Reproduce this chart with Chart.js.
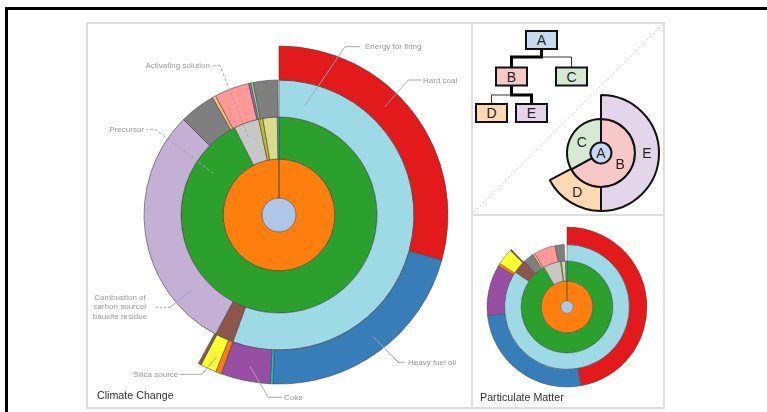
<!DOCTYPE html>
<html>
<head>
<meta charset="utf-8">
<script src="https://cdn.jsdelivr.net/npm/chart.js@4.4.0/dist/chart.umd.min.js"></script>
<style>
  body { margin: 0; width: 767px; height: 412px; overflow: hidden; position: relative; background: #fff; font-family: Arial, "Liberation Sans", sans-serif; }
  .frame { position: absolute; left: 5px; top: 7px; width: 800px; height: 500px; border-top: 3px solid #000; border-left: 3px solid #000; }
  .panel { position: absolute; border: 2px solid #dedede; box-sizing: border-box; }
  .title { position: absolute; font-size: 10.7px; color: #333; white-space: nowrap; }
  canvas, svg { position: absolute; }
</style>
</head>
<body>
<div class="frame"></div>
<div class="panel" style="left:86px;top:22px;width:387px;height:387px"></div>
<div class="panel" style="left:471px;top:22px;width:194px;height:194px"></div>
<div class="panel" style="left:471px;top:214px;width:194px;height:195px"></div>

<svg id="tree" style="left:472px;top:22px" width="192" height="193">
  <line x1="2" y1="190" x2="191" y2="2" stroke="#cccccc" stroke-width="1" stroke-dasharray="2,2"/>
  <!-- connectors -->
  <polyline points="69.5,27 69.5,35 39.5,35 39.5,45" fill="none" stroke="#000" stroke-width="3"/>
  <polyline points="69.5,35 99.5,35 99.5,45" fill="none" stroke="#333" stroke-width="1"/>
  <polyline points="39.5,63 39.5,73 59.5,73 59.5,82" fill="none" stroke="#000" stroke-width="3"/>
  <polyline points="39.5,73 19.5,73 19.5,82" fill="none" stroke="#333" stroke-width="1"/>
  <g stroke="#111" stroke-width="2">
    <rect x="54" y="9" width="31" height="18" fill="#c6dbef"/>
    <rect x="24" y="45.5" width="31" height="18" fill="#f6c9c8"/>
    <rect x="84" y="45.5" width="31" height="18" fill="#d6ead3"/>
    <rect x="4" y="82" width="31" height="18" fill="#fcd9b3"/>
    <rect x="44" y="82" width="31" height="18" fill="#e4d6ea"/>
  </g>
  <g fill="#222" font-size="14" font-family="Arial" text-anchor="middle">
    <text x="69.5" y="23">A</text>
    <text x="39.5" y="59.5">B</text>
    <text x="99.5" y="59.5">C</text>
    <text x="19.5" y="96">D</text>
    <text x="59.5" y="96">E</text>
  </g>
</svg>

<canvas id="cc" width="386" height="386" style="left:86px;top:22px"></canvas>
<canvas id="mini" width="124" height="124" style="left:539px;top:91px"></canvas>
<canvas id="pm" width="170" height="170" style="left:482px;top:222px"></canvas>

<div class="title" style="left:97px;top:389px">Climate Change</div>
<div class="title" style="left:480px;top:391px">Particulate Matter</div>

<script>
const GAP = "rgba(0,0,0,0)";

// Climate Change: segment shares in degrees, clockwise from 12 o'clock
// ring 4 (outermost)
const ccRing4Names = ["Hard coal", "Heavy fuel oil", "Other fuel", "Coke", "Other", "Silica source", "Other", ""];
const ccRing4 = [105.5, 76.5, 1, 17, 2, 5.5, 1, 151.5];
const ccRing4Colors = ["#e31a1c", "#377eb8", "#17becf", "#984ea3", "#ff7f0e", "#ffff33", "#8c564b", GAP];
// ring 3
const ccRing3Names = ["Energy for firing", "Other", "Combustion of carbon source/bauxite residue", "Other", "Other", "Activating solution", "Other", "Other", "Other", ""];
const ccRing3 = [200, 8, 107, 15.5, 1.5, 15, 1, 1, 10.5, 0.5];
const ccRing3Colors = ["#9edae5", "#8c564b", "#c5b0d5", "#7f7f7f", "#ffbb78", "#ff9896", "#9467bd", "#98df8a", "#7f7f7f", GAP];
// ring 2
const ccRing2Names = ["Precursor", "Activating solution", "Other", "Other", "Other"];
const ccRing2 = [333, 15, 2.5, 8.5, 1];
const ccRing2Colors = ["#2ca02c", "#c7c7c7", "#bcbd22", "#dbdb8d", "#17becf"];
// ring 1 and centre
const ccRing1 = [360];
const ccCore = [360];

// Particulate Matter
const pmRing4 = [170, 94, 37, 2, 12, 1, 44];
const pmRing4Colors = ["#e31a1c", "#377eb8", "#984ea3", "#ff7f0e", "#ffff33", "#8c564b", GAP];
const pmRing3 = [304, 13, 10, 2, 20, 8.5, 2.5];
const pmRing3Colors = ["#9edae5", "#8c564b", "#7f7f7f", "#ffbb78", "#ff9896", "#7f7f7f", GAP];
const pmRing2 = [330, 22, 1, 5, 2];
const pmRing2Colors = ["#2ca02c", "#c7c7c7", "#bcbd22", "#dbdb8d", "#17becf"];
const pmRing1 = [360];
const pmCore = [360];

// explanation sunburst (A..E)
const exRing3Names = ["E", "D", ""];
const exRing3 = [180, 62, 118];
const exRing2Names = ["B", "C"];
const exRing2 = [241, 119];
const exCoreNames = ["A"];
const exCore = [360];

function ring(values, colors, weight, line, bw) {
  return {
    data: values,
    backgroundColor: colors,
    borderColor: colors.map(c => c === GAP ? GAP : line),
    borderWidth: colors.map(c => c === GAP ? 0 : bw),
    weight: weight
  };
}

const LINE = "rgba(70,70,70,0.75)";

// leader lines for the climate change chart; offsets are from the chart centre
const ccLeaders = [
  { ds: 1, i: 0, t: 0.067, r: 0.4, elbow: [66, -168.3], end: [81, -168.3], text: ["Energy for firing"], tx: 86, ty: -168, align: "left" },
  { ds: 0, i: 0, t: 0.42, r: 0.49, elbow: [129.3, -135], end: [142.7, -135], text: ["Hard coal"], tx: 144, ty: -134, align: "left" },
  { ds: 2, i: 1, t: 0.37, r: 0.67, elbow: [-59, -149.3], end: [-67.3, -149.3], text: ["Activating solution"], tx: -69, ty: -149, align: "right", dash: true },
  { ds: 2, i: 0, t: 0.908, r: 0.52, elbow: [-124, -85.7], end: [-132.3, -85.7], text: ["Precursor"], tx: -135, ty: -85.7, align: "right", dash: true },
  { ds: 1, i: 2, t: 0.2, r: 0.45, elbow: [-109, 92.3], end: [-124, 92.3], text: ["Combustion of", "carbon source/", "bauxite residue"], tx: -159, ty: 82.3, align: "center", dashEnd: true },
  { ds: 0, i: 5, t: 0.3, r: 0.58, elbow: [-77.3, 159.3], end: [-99, 159.3], text: ["Silica source"], tx: -100.7, ty: 159.3, align: "right" },
  { ds: 0, i: 3, t: 0.46, r: 0.57, elbow: [-10.7, 182.3], end: [2.7, 182.3], text: ["Coke"], tx: 5, ty: 182.3, align: "left" },
  { ds: 0, i: 1, t: 0.48, r: 0.56, elbow: [119.3, 147.3], end: [126, 147.3], text: ["Heavy fuel oil"], tx: 129, ty: 147.3, align: "left" }
];

const leaderPlugin = {
  id: "leaders",
  afterDatasetsDraw(chart) {
    const ctx = chart.ctx;
    ctx.save();
    ccLeaders.forEach(l => {
      const arc = chart.getDatasetMeta(l.ds).data[l.i];
      const p = arc.getProps(["x", "y", "startAngle", "endAngle", "innerRadius", "outerRadius"], true);
      const a = p.startAngle + l.t * (p.endAngle - p.startAngle);
      const rr = p.innerRadius + l.r * (p.outerRadius - p.innerRadius);
      const ax = p.x + Math.cos(a) * rr, ay = p.y + Math.sin(a) * rr;
      ctx.strokeStyle = "#a8a8a8";
      ctx.lineWidth = 1;
      ctx.setLineDash(l.dash ? [3, 2] : []);
      ctx.beginPath();
      ctx.moveTo(ax, ay);
      ctx.lineTo(p.x + l.elbow[0], p.y + l.elbow[1]);
      if (!l.dashEnd) ctx.lineTo(p.x + l.end[0], p.y + l.end[1]);
      ctx.stroke();
      if (l.dashEnd) {
        ctx.setLineDash([2, 2]);
        ctx.beginPath();
        ctx.moveTo(p.x + l.elbow[0], p.y + l.elbow[1]);
        ctx.lineTo(p.x + l.end[0], p.y + l.end[1]);
        ctx.stroke();
      }
      ctx.setLineDash([]);
      ctx.fillStyle = "#9a9a9a";
      ctx.font = "8px Arial";
      ctx.textAlign = l.align;
      ctx.textBaseline = "middle";
      l.text.forEach((s, k) => ctx.fillText(s, p.x + l.tx, p.y + l.ty + k * 9.7));
    });
    ctx.restore();
  }
};

const letterPlugin = {
  id: "letters",
  afterDatasetsDraw(chart) {
    const ctx = chart.ctx;
    const names = [exRing3Names, exRing2Names, exCoreNames];
    ctx.save();
    ctx.fillStyle = "#222";
    ctx.font = "14px Arial";
    ctx.textAlign = "center";
    ctx.textBaseline = "middle";
    chart.data.datasets.forEach((ds, di) => {
      chart.getDatasetMeta(di).data.forEach((arc, i) => {
        const n = names[di][i];
        if (!n) return;
        let pos = arc.tooltipPosition(true);
        if (arc.innerRadius === 0) pos = { x: arc.x, y: arc.y };
        ctx.fillText(n, pos.x, pos.y + 1);
      });
    });
    ctx.restore();
  }
};

const baseOptions = (radius) => ({
  responsive: false,
  animation: false,
  events: [],
  radius: radius,
  layout: { padding: 0 },
  plugins: { legend: { display: false }, tooltip: { enabled: false } }
});

// centre discs get no border of their own: the ring around them outlines them
new Chart(document.getElementById("cc"), {
  type: "pie",
  data: {
    labels: ccRing3Names,
    datasets: [
      ring(ccRing4, ccRing4Colors, 34, LINE, 0.8),
      ring(ccRing3, ccRing3Colors, 37, LINE, 0.8),
      ring(ccRing2, ccRing2Colors, 42, LINE, 0.8),
      ring(ccRing1, ["#ff7f0e"], 39, LINE, 0.8),
      ring(ccCore, ["#aec7e8"], 17, LINE, 0)
    ]
  },
  options: baseOptions(169),
  plugins: [leaderPlugin]
});

new Chart(document.getElementById("pm"), {
  type: "pie",
  data: {
    labels: [],
    datasets: [
      ring(pmRing4, pmRing4Colors, 17.5, LINE, 0.6),
      ring(pmRing3, pmRing3Colors, 16.5, LINE, 0.6),
      ring(pmRing2, pmRing2Colors, 20, LINE, 0.6),
      ring(pmRing1, ["#ff7f0e"], 19.7, LINE, 0.6),
      ring(pmCore, ["#aec7e8"], 6.3, LINE, 0)
    ]
  },
  options: baseOptions(80)
});

new Chart(document.getElementById("mini"), {
  type: "pie",
  data: {
    labels: exRing3Names,
    datasets: [
      ring(exRing3, ["#e4d6ea", "#fcd9b3", GAP], 24, "#111", 2),
      ring(exRing2, ["#f6c9c8", "#d6ead3"], 23.5, "#111", 2),
      ring(exCore, ["#c6dbef"], 10.5, "#111", 0)
    ]
  },
  options: baseOptions(58),
  plugins: [letterPlugin]
});
</script>
</body>
</html>
